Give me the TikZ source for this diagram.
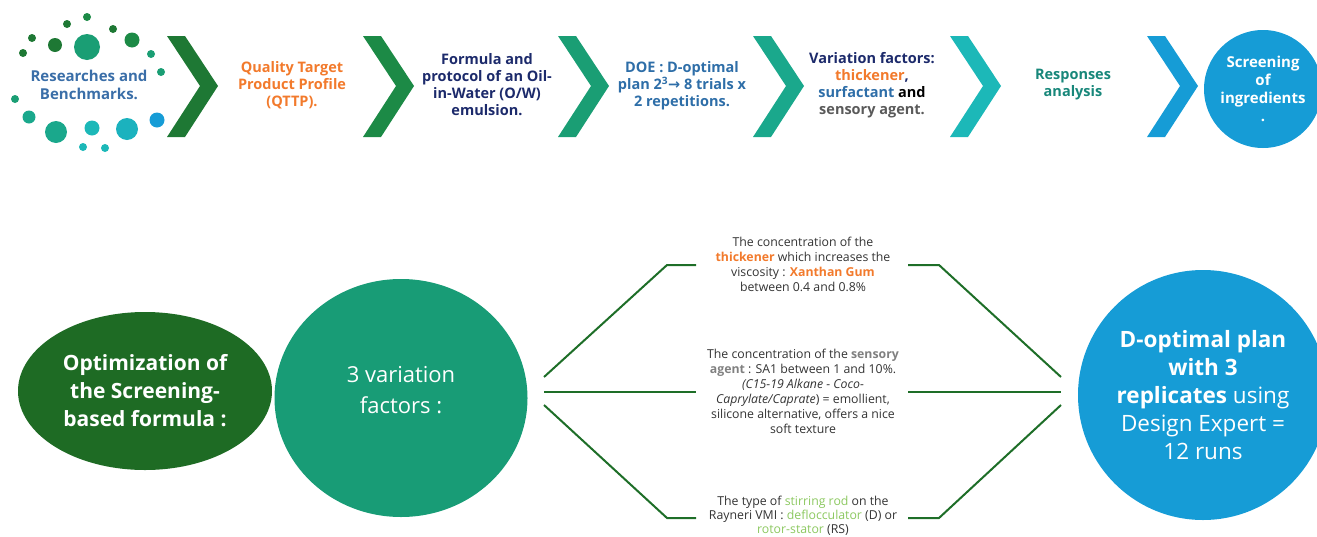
\documentclass[tikz,border=0pt]{standalone}
\usepackage{fontspec}
\setmainfont{Open Sans}
\newfontfamily\arrowfont{DejaVu Sans}
\usetikzlibrary{shapes.geometric}

\definecolor{dkgreen}{RGB}{30,120,52}
\definecolor{midgreen}{RGB}{28,138,70}
\definecolor{tealgreen}{RGB}{26,158,116}
\definecolor{teal}{RGB}{26,168,140}
\definecolor{cyanteal}{RGB}{28,184,184}
\definecolor{skyblue}{RGB}{22,156,214}
\definecolor{olivegreen}{RGB}{30,107,36}
\definecolor{bigteal}{RGB}{24,156,118}
\definecolor{steelblue}{RGB}{58,110,168}
\definecolor{qorange}{RGB}{242,122,44}
\definecolor{navy}{RGB}{28,42,107}
\definecolor{doeblue}{RGB}{46,110,168}
\definecolor{respteal}{RGB}{24,135,122}
\definecolor{txtgray}{RGB}{51,51,51}
\definecolor{sensgray}{RGB}{128,128,128}
\definecolor{lightgreen}{RGB}{140,200,96}
\definecolor{linegreen}{RGB}{30,110,40}

\tikzset{
  toptext/.style={align=center, inner sep=0.75pt, font=\fontsize{14.5}{17}\selectfont\bfseries},
  midtext/.style={align=center, inner sep=0.75pt, text=txtgray, font=\fontsize{12.3}{15}\selectfont},
  branch/.style={draw=linegreen, line width=2pt},
}

\begin{document}
\begin{tikzpicture}[x=1pt,y=1pt,yscale=-1]
\useasboundingbox (0,0) rectangle (1317,536);

%Shape: Dots ring
\fill[midgreen] (87,17) circle (4);
\fill[dkgreen] (67,24) circle (4);
\fill[dkgreen] (113,29) circle (4);
\fill[dkgreen] (32,38) circle (4);
\fill[dkgreen] (55,45) circle (7);
\fill[tealgreen] (87,47) circle (13);
\fill[midgreen] (132,40) circle (7.5);
\fill[dkgreen] (23,53) circle (4);
\fill[tealgreen] (151,54) circle (4);
\fill[tealgreen] (161,72) circle (4);
\fill[tealgreen] (15,99) circle (4);
\fill[teal] (29,117) circle (6.5);
\fill[teal] (56,132) circle (11);
\fill[cyanteal] (92,128) circle (7.5);
\fill[cyanteal!80!skyblue] (127,129) circle (11);
\fill[skyblue] (157,120) circle (7.5);
\fill[cyanteal] (83,147) circle (4);
\fill[cyanteal] (105,148) circle (4);

%Shape: Chevrons
\fill[dkgreen] (167,36) -- (185,36) -- (218,86) -- (185,137) -- (167,137) -- (200,86) -- cycle;
\fill[midgreen] (363,36) -- (381,36) -- (414,86) -- (381,137) -- (363,137) -- (396,86) -- cycle;
\fill[tealgreen] (558,36) -- (576,36) -- (609,86) -- (576,137) -- (558,137) -- (591,86) -- cycle;
\fill[teal] (753,36) -- (771,36) -- (804,86) -- (771,137) -- (753,137) -- (786,86) -- cycle;
\fill[cyanteal] (950,36) -- (968,36) -- (1001,86) -- (968,137) -- (950,137) -- (983,86) -- cycle;
\fill[skyblue] (1147,36) -- (1165,36) -- (1198,86) -- (1165,137) -- (1147,137) -- (1180,86) -- cycle;

% Text Node
\node[toptext, text=steelblue, font=\fontsize{15}{18}\selectfont\bfseries] (research) at (89,85) {Researches and\\Benchmarks.};
% Text Node
\node[toptext, text=qorange] (qttp) at (292,85) {Quality Target\\Product Profile\\(QTTP).};
% Text Node
\node[toptext, text=navy] (formula) at (487,85) {Formula and\\protocol of an Oil-\\in-Water (O/W)\\emulsion.};
% Text Node
\node[toptext, text=doeblue] (doe) at (682,86) {DOE : D-optimal\\plan 2\textsuperscript{3}{\arrowfont\bfseries→} 8 trials x\\2 repetitions.};
% Text Node
\node[toptext, text=navy] (factors) at (872,85) {Variation factors:\\\textcolor{qorange}{thickener},\\\textcolor{doeblue}{surfactant} \textcolor{black}{and}\\\textcolor{sensgray!70!black}{sensory agent.}};
% Text Node
\node[toptext, text=respteal] (responses) at (1073,85) {Responses\\analysis};
%Shape: Circle
\node[circle, fill=skyblue, minimum size=118, toptext, text=white, font=\fontsize{15}{18}\selectfont\bfseries] (screening) at (1263,89) {Screening\\of\\ingredients\\.};

%Shape: Ellipse
\node[ellipse, fill=olivegreen, minimum width=254, minimum height=158, align=center, inner sep=0.75pt, text=white, font=\fontsize{21}{28}\selectfont\bfseries] (optim) at (145,391) {Optimization of\\the Screening-\\based formula :};
%Shape: Ellipse
\node[ellipse, fill=bigteal, minimum width=253, minimum height=238, align=center, inner sep=0.75pt, text=white, font=\fontsize{22}{31}\selectfont] (variation) at (401,398) {3 variation\\factors :\\[-14pt]};
%Shape: Circle
\node[circle, fill=skyblue, minimum size=250, align=center, inner sep=0.75pt, text=white, font=\fontsize{22.5}{28}\selectfont] (dplan) at (1203,395) {\textbf{D-optimal plan}\\\textbf{with 3}\\\textbf{replicates} using\\Design Expert =\\12 runs};

% Text Node
\node[midtext] (thick) at (803,264) {The concentration of the\\\textcolor{qorange}{\bfseries thickener} which increases the\\viscosity : \textcolor{qorange}{\bfseries Xanthan Gum}\\between 0.4 and 0.8\%};
% Text Node
\node[midtext] (sensory) at (803,391) {The concentration of the \textcolor{sensgray}{\bfseries sensory}\\\textcolor{sensgray}{\bfseries agent} : SA1 between 1 and 10\%.\\\textit{(C15-19 Alkane - Coco-}\\\textit{Caprylate/Caprate}) = emollient,\\silicone alternative, offers a nice\\soft texture};
% Text Node
\node[midtext, font=\fontsize{12.3}{14}\selectfont] (stirring) at (803,516) {The type of \textcolor{lightgreen}{stirring rod} on the\\Rayneri VMI : \textcolor{lightgreen}{deflocculator} (D) or\\\textcolor{lightgreen}{rotor-stator} (RS)};

% Branch points
\coordinate (la) at (544,377);
\coordinate (lb) at (544,392);
\coordinate (lc) at (544,405);
\coordinate (ra) at (1061,377);
\coordinate (rb) at (1061,392);
\coordinate (rc) at (1061,405);
\coordinate (ta) at (696,265);
\coordinate (tb) at (908,265);
\coordinate (sa) at (696,392);
\coordinate (sb) at (908,392);
\coordinate (qa) at (696,518);
\coordinate (qb) at (908,518);

%Straight Lines
\draw[branch] (la) -- (667,265) -- (ta);
\draw[branch] (lb) -- (sa);
\draw[branch] (lc) -- (667,518) -- (qa);
\draw[branch] (tb) -- (939,265) -- (ra);
\draw[branch] (sb) -- (rb);
\draw[branch] (qb) -- (939,518) -- (rc);

\end{tikzpicture}
\end{document}
